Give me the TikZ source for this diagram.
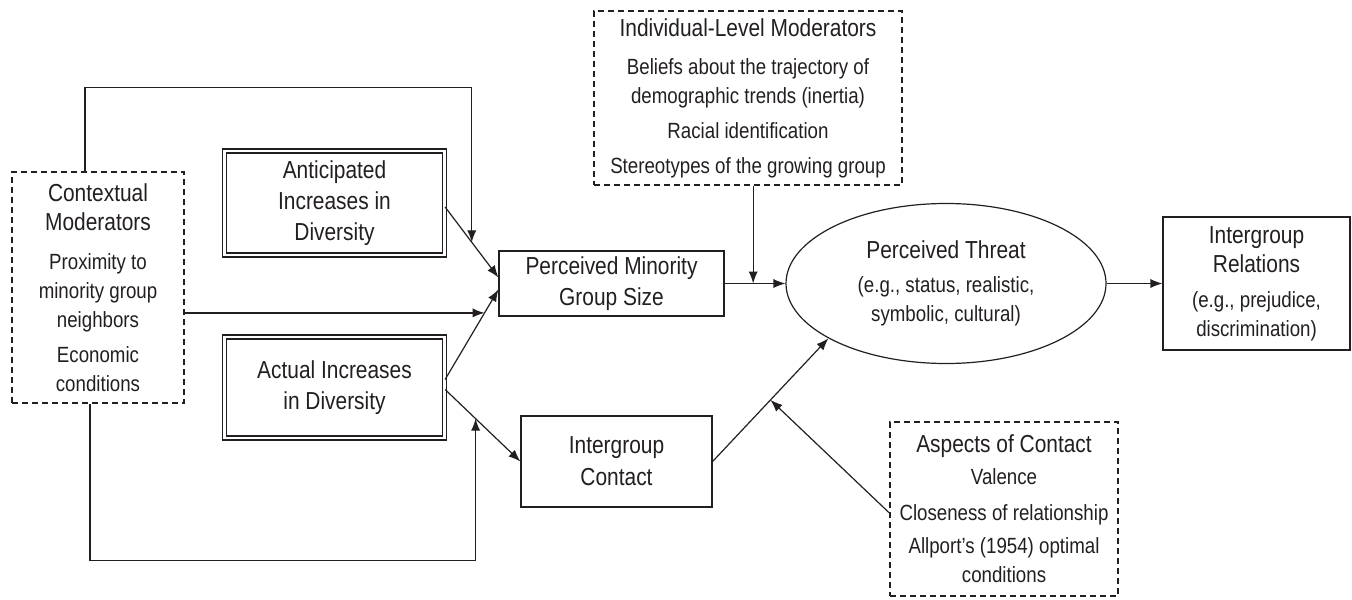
\documentclass[tikz,border=0pt]{standalone}
\usepackage{fontspec}
\setmainfont[FakeStretch=0.85]{Liberation Sans}
\usepackage{tikz}
\usetikzlibrary{arrows.meta, shapes.geometric}
\definecolor{ink}{RGB}{35,31,32}
\newcommand{\bodysz}{\fontsize{11}{14.5}\selectfont}
\newcommand{\headsz}{\fontsize{12.3}{14.5}\selectfont}

\begin{document}
\begin{tikzpicture}[
  x=0.5pt, y=-0.5pt,
  line width=0.6pt, draw=ink,
  every node/.style={text=ink, font=\bodysz, align=center, inner sep=0pt},
  box/.style    ={rectangle, draw},
  dbox/.style   ={rectangle, draw, double, double distance=1.4pt},
  modbox/.style ={rectangle, draw, dash pattern=on 3pt off 2pt},
  blob/.style   ={ellipse, draw},
  link/.style   ={-{Latex[length=6pt,width=4.6pt]}}
]
\useasboundingbox (0,0) rectangle (1352,599);

%--- Moderator boxes ------------------------------------------------------
\node[modbox, minimum width=86pt, minimum height=115.5pt] (ctx) at (98,287.5)
  {\headsz Contextual\\\headsz Moderators\\[5pt]Proximity to\\minority group\\neighbors\\[3pt]Economic\\conditions};

\node[modbox, minimum width=154pt, minimum height=87pt] (indiv) at (748,98)
  {\headsz Individual-Level Moderators\\[4.5pt]Beliefs about the trajectory of\\demographic trends (inertia)\\[3pt]Racial identification\\[3pt]Stereotypes of the growing group};

\node[modbox, minimum width=114pt, minimum height=87pt] (aspects) at (1004,509)
  {\headsz Aspects of Contact\\[1.5pt]Valence\\[3.5pt]Closeness of relationship\\[2pt]Allport's (1954) optimal\\conditions};

%--- Main chain -----------------------------------------------------------
\node[dbox, minimum width=110pt, minimum height=52pt] (antic) at (334.5,203)
  {\headsz Anticipated\\[1pt]\headsz Increases in\\[1pt]\headsz Diversity};

\node[dbox, minimum width=110pt, minimum height=50.5pt] (actual) at (334.5,387.5)
  {\headsz Actual Increases\\[1pt]\headsz in Diversity};

\node[box, minimum width=112.5pt, minimum height=32.5pt] (pmgs) at (611.5,283.5)
  {\headsz Perceived Minority\\[1pt]\headsz Group Size};

\node[box, minimum width=95.5pt, minimum height=45.5pt] (contact) at (616.5,461.5)
  {\headsz Intergroup\\[1.5pt]\headsz Contact};

\node[blob, minimum width=160pt, minimum height=80pt] (threat) at (946,283.5)
  {\headsz Perceived Threat\\[2.5pt](e.g., status, realistic,\\symbolic, cultural)};

\node[box, minimum width=93.5pt, minimum height=66.5pt] (relations) at (1256.5,283.5)
  {\headsz Intergroup\\\headsz Relations\\[3pt](e.g., prejudice,\\discrimination)};

%--- connection ------------------------------------------------------------
\draw[link] ([yshift=-2pt]antic.east) -- coordinate[pos=0.5] (a1) ([yshift=3pt]pmgs.west);
\draw[link] ([yshift=4pt]actual.east) -- coordinate[pos=0.74] (a2) ([yshift=-3pt]pmgs.west);
\draw[link] ([yshift=-1pt]actual.east) -- coordinate[pos=0.405] (a3) (contact.west);
\draw[link] (pmgs.east) -- coordinate[pos=0.47] (a4) (threat.west);
\draw[link] (contact.east) -- coordinate[pos=0.5] (a5) (threat.205);
\draw[link] (threat.east) -- (relations.west);

%--- Moderating paths ------------------------------------------------------
\draw[link] ([xshift=-6.5pt]ctx.north) -- ++(0,-84) -| (a1);
\draw[link] (ctx.east |- a2) -- (a2);
\draw[link] ([xshift=-4pt]ctx.south) -- ++(0,157) -| (a3);
\draw[link] (indiv.south -| a4) -- (a4);
\draw[link] ([yshift=-2pt]aspects.west) -- (a5);
\end{tikzpicture}
\end{document}
